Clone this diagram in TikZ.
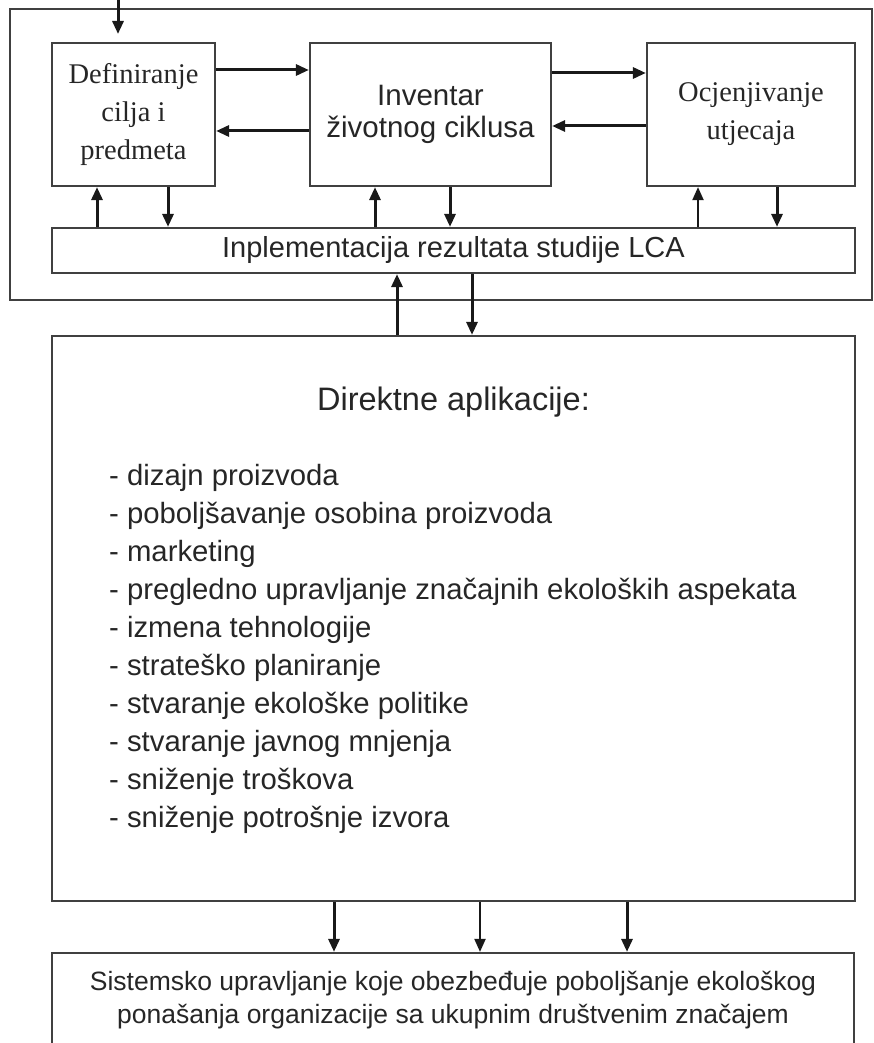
\documentclass[tikz,border=0pt]{standalone}
\usepackage{fontspec}
\setmainfont{Liberation Serif}
\setsansfont{Liberation Sans}
\usetikzlibrary{arrows.meta}

\begin{document}
\begin{tikzpicture}
[
x=1pt,y=-1pt,
box/.style={draw=black!75,line width=2.2pt,inner sep=0pt,align=center,text=black!85},
stage/.style 2 args={box,minimum width=#1,minimum height=#2},
serif/.style={font=\fontsize{28.5}{38}\selectfont\rmfamily},
sans/.style={font=\fontsize{29}{33}\selectfont\sffamily},
flow/.style={-{Triangle[length=13pt,width=11pt]},line width=3pt,black!90},
thin flow/.style={flow,line width=2pt},
item/.style={anchor=base west,inner sep=0pt,text=black!85,font=\fontsize{29.3}{35}\selectfont\sffamily},
]
\useasboundingbox (0,0) rectangle (873,1043);
\clip (0,0) rectangle (873,1043);

%Place the nodes
\node[stage={862pt}{291pt}] (frame) at (441,154.5) {};
\node[stage={163pt}{143pt},serif] (defin) at (133.5,114.5) {Definiranje\\cilja i\\predmeta};
\node[stage={241pt}{143pt},sans,font=\fontsize{29.5}{32.5}\selectfont\sffamily] (invent) at (430.5,114.5) {Inventar\\životnog ciklusa};
\node[stage={208pt}{143pt},serif] (ocjena) at (751,114.5) {Ocjenjivanje\\utjecaja};
\node[stage={803pt}{45pt},sans] (impl) at (453.5,250.5) {Inplementacija rezultata studije LCA};
\node[stage={803pt}{565pt}] (direct) at (453.5,618.5) {};
\node[stage={802pt}{94pt},sans,font=\fontsize{26.5}{33}\selectfont\sffamily] (system) at (453,1000)
  {Sistemsko upravljanje koje obezbeđuje poboljšanje ekološkog\\ponašanja organizacije sa ukupnim društvenim značajem};
\coordinate (input) at (118,-2);
\coordinate (inputtip) at (118,34);

%Text of the applications box
\node[item,anchor=base,font=\fontsize{32.5}{35}\selectfont\sffamily] (title) at (453.5,410) {Direktne aplikacije:};
\foreach \txt [count=\i from 0] in {dizajn proizvoda,poboljšavanje osobina proizvoda,marketing,
  pregledno upravljanje značajnih ekoloških aspekata,izmena tehnologije,strateško planiranje,
  stvaranje ekološke politike,stvaranje javnog mnjenja,sniženje troškova,sniženje potrošnje izvora}
  \node[item] (app\i) at (109,{485+38.1*\i}) {- \txt};

%Draw the connections
\draw[flow] (input) -- (inputtip);
\draw[flow] (defin.east |- 0,70) -- (invent.west |- 0,70);
\draw[flow] (invent.west |- 0,131) -- (defin.east |- 0,131);
\draw[flow] (invent.east |- 0,73) -- (ocjena.west |- 0,73);
\draw[flow] (ocjena.west |- 0,126) -- (invent.east |- 0,126);
\draw[flow] (impl.north -| 97,0) -- (defin.south -| 97,0);
\draw[flow] (defin.south -| 168,0) -- (impl.north -| 168,0);
\draw[flow] (impl.north -| 375,0) -- (invent.south -| 375,0);
\draw[flow] (invent.south -| 450,0) -- (impl.north -| 450,0);
\draw[thin flow] (impl.north -| 698,0) -- (ocjena.south -| 698,0);
\draw[flow] (ocjena.south -| 777,0) -- (impl.north -| 777,0);
\draw[flow] (direct.north -| 397,0) -- (impl.south -| 397,0);
\draw[flow] (impl.south -| 472,0) -- (direct.north -| 472,0);
\draw[flow] (direct.south -| 334,0) -- (system.north -| 334,0);
\draw[thin flow] (direct.south -| 480,0) -- (system.north -| 480,0);
\draw[flow] (direct.south -| 627,0) -- (system.north -| 627,0);
\end{tikzpicture}
\end{document}
